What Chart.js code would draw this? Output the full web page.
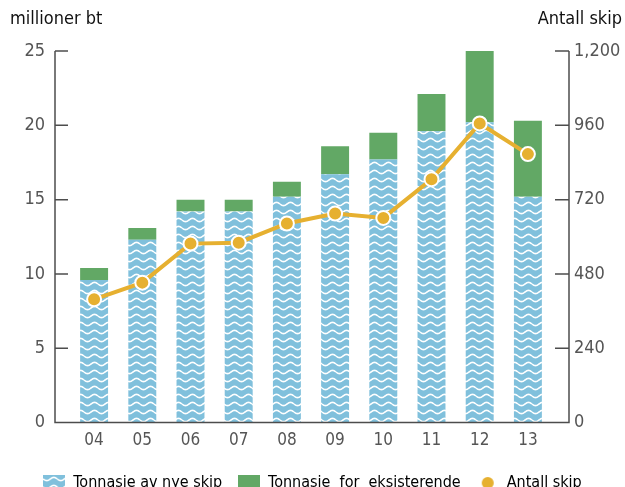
<!DOCTYPE html>
<html>
<head>
<meta charset="utf-8">
<script src="https://cdn.jsdelivr.net/npm/chart.js@4.4.0/dist/chart.umd.min.js"></script>
<style>
  html, body { margin: 0; padding: 0; background: #fff; overflow: hidden; }
  #wrap { position: relative; width: 625px; height: 487px; }
</style>
</head>
<body>
<div id="wrap"><canvas id="chart"></canvas></div>
<script>
const years = ["04", "05", "06", "07", "08", "09", "10", "11", "12", "13"];
const newTonnage = [9.6, 12.3, 14.2, 14.2, 15.2, 16.7, 17.7, 19.6, 20.2, 15.2];
const existingTonnage = [0.8, 0.8, 0.8, 0.8, 1.0, 1.9, 1.8, 2.5, 5.1, 5.1];
const shipCount = [398, 452, 578, 581, 643, 675, 661, 786, 966, 867];
const leftTicks = [0, 5, 10, 15, 20, 25];
const rightTicks = [0, 240, 480, 720, 960, 1200];

const FONT = "'Liberation Sans Narrow', 'DejaVu Sans Condensed', sans-serif";
const BLUE = "#80c0dc", GREEN = "#62a865", GOLD = "#e6b030", AXIS = "#4d4d4d";

// light blue tile with white waves, repeated over the new-ship bars
function waveTile() {
  const c = document.createElement("canvas");
  c.width = 14; c.height = 8;
  const g = c.getContext("2d");
  g.fillStyle = BLUE;
  g.fillRect(0, 0, 14, 8);
  g.strokeStyle = "#fff";
  g.lineWidth = 1.6;
  g.beginPath();
  for (let x = 0; x <= 14; x += 0.5) {
    const y = 4 + 1.6 * Math.sin(x / 14 * Math.PI * 2);
    if (x === 0) g.moveTo(x, y); else g.lineTo(x, y);
  }
  g.stroke();
  return c;
}
const tile = waveTile();
const ctx = document.getElementById("chart").getContext("2d");
const wave = ctx.createPattern(tile, "repeat");

function swatch(draw) {
  const c = document.createElement("canvas");
  c.width = 22; c.height = 16;
  draw(c.getContext("2d"));
  return c;
}
const swWave = swatch(g => { g.fillStyle = g.createPattern(tile, "repeat"); g.fillRect(0, 0, 22, 16); });
const swGreen = swatch(g => { g.fillStyle = GREEN; g.fillRect(0, 0, 22, 16); });
const swDot = swatch(g => { g.fillStyle = GOLD; g.beginPath(); g.arc(11, 8, 6, 0, Math.PI * 2); g.fill(); });

const axisFrame = {
  id: "axisFrame",
  afterDraw(chart) {
    const { ctx, chartArea: a, scales } = chart;
    const yL = scales.y, yR = scales.y1;
    const left = a.left - 15, right = a.right + 17;
    const top = yL.getPixelForValue(25), bottom = yL.getPixelForValue(0);
    ctx.save();
    ctx.strokeStyle = AXIS;
    ctx.lineWidth = 1.5;
    ctx.beginPath();
    ctx.moveTo(left, top);
    ctx.lineTo(left, bottom);
    ctx.lineTo(right, bottom);
    ctx.lineTo(right, top);
    leftTicks.forEach(v => {
      const y = yL.getPixelForValue(v);
      ctx.moveTo(left, y); ctx.lineTo(left + 13, y);
    });
    rightTicks.forEach(v => {
      const y = yR.getPixelForValue(v);
      ctx.moveTo(right - 14, y); ctx.lineTo(right, y);
    });
    ctx.stroke();
    ctx.fillStyle = "#111";
    ctx.font = "18px " + FONT;
    ctx.textBaseline = "middle";
    ctx.textAlign = "left";
    ctx.fillText("millioner bt", 10, 19);
    ctx.textAlign = "right";
    ctx.fillText("Antall skip", 622, 19);
    ctx.restore();
  }
};

new Chart(ctx, {
  data: {
    labels: years,
    datasets: [
      {
        type: "line",
        label: "Antall skip",
        data: shipCount,
        yAxisID: "y1",
        borderColor: GOLD,
        borderWidth: 4,
        pointRadius: 7,
        pointBackgroundColor: GOLD,
        pointBorderColor: "#fff",
        pointBorderWidth: 2,
        order: 0
      },
      {
        type: "bar",
        label: "Tonnasie av nye skip",
        data: newTonnage,
        backgroundColor: wave,
        barPercentage: 0.58,
        categoryPercentage: 1,
        order: 1
      },
      {
        type: "bar",
        label: "Tonnasie  for  eksisterende",
        data: existingTonnage,
        backgroundColor: GREEN,
        barPercentage: 0.58,
        categoryPercentage: 1,
        order: 2
      }
    ]
  },
  options: {
    responsive: true,
    maintainAspectRatio: false,
    animation: false,
    layout: { padding: { top: 51, bottom: -14 } },
    scales: {
      x: {
        stacked: true,
        grid: { display: false, drawTicks: false },
        border: { display: false },
        ticks: { color: "#555", font: { family: FONT, size: 17 }, padding: 8 }
      },
      y: {
        stacked: true,
        min: 0,
        max: 25,
        afterBuildTicks: s => { s.ticks = leftTicks.map(v => ({ value: v })); },
        afterFit: s => { s.width = 70; },
        grid: { display: false, drawTicks: false },
        border: { display: false },
        ticks: { color: "#555", font: { family: FONT, size: 18 }, padding: 25 }
      },
      y1: {
        position: "right",
        min: 0,
        max: 1200,
        afterBuildTicks: s => { s.ticks = rightTicks.map(v => ({ value: v })); },
        afterFit: s => { s.width = 73; },
        grid: { display: false, drawTicks: false },
        border: { display: false },
        ticks: {
          color: "#555",
          font: { family: FONT, size: 18 },
          padding: 22,
          callback: v => v.toLocaleString("en-US")
        }
      }
    },
    plugins: {
      tooltip: { enabled: false },
      legend: {
        position: "bottom",
        labels: {
          usePointStyle: true,
          pointStyleWidth: 22,
          boxHeight: 16,
          padding: 16,
          color: "#111",
          font: { family: FONT, size: 16 },
          generateLabels: () => [
            { text: "Tonnasie av nye skip", pointStyle: swWave, fillStyle: BLUE, lineWidth: 0, datasetIndex: 1 },
            { text: "Tonnasie  for  eksisterende", pointStyle: swGreen, fillStyle: GREEN, lineWidth: 0, datasetIndex: 2 },
            { text: "Antall skip", pointStyle: swDot, fillStyle: GOLD, lineWidth: 0, datasetIndex: 0 }
          ]
        }
      }
    }
  },
  plugins: [axisFrame]
});
</script>
</body>
</html>
